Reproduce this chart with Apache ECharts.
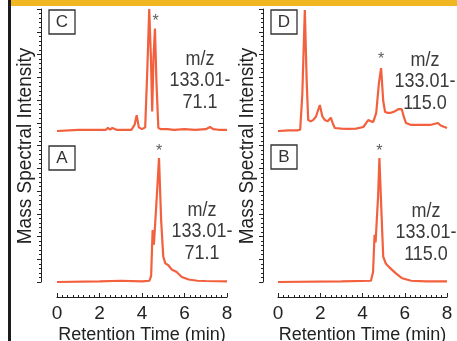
<!DOCTYPE html>
<html>
<head>
<meta charset="utf-8">
<script src="https://cdn.jsdelivr.net/npm/echarts@6/dist/echarts.min.js"></script>
<style>
  html, body { margin: 0; padding: 0; background: #fff; }
  #chart { width: 457px; height: 341px; }
</style>
</head>
<body>
<div id="chart"></div>
<script>
// retention time (min), relative intensity (%)
const traceC = [
  [0, 0], [1, 1], [2.3, 1], [2.4, 2.5], [2.5, 1], [2.6, 2.5], [2.8, 1], [3.5, 1],
  [3.65, 5], [3.75, 13], [3.85, 3], [4.0, 1.5], [4.15, 3], [4.25, 50], [4.34, 100],
  [4.42, 60], [4.48, 16], [4.54, 60], [4.61, 84], [4.68, 40], [4.77, 2.5], [4.9, 1.5],
  [5.2, 1.5], [5.5, 1], [6.0, 1.5], [6.5, 1], [7.0, 1.5], [7.2, 3.3], [7.35, 1.5],
  [7.6, 1], [8.0, 1]
];
const traceA = [
  [0, 0], [2, 0.5], [3, 1], [4, 0.5], [4.35, 1], [4.43, 5], [4.5, 42], [4.56, 30],
  [4.61, 30], [4.7, 70], [4.8, 100], [4.9, 50], [5.0, 20.5], [5.1, 15], [5.24, 13.5],
  [5.4, 10], [5.63, 8], [5.87, 4], [6.2, 2], [6.6, 1], [7.0, 0.8], [8.0, 0.5]
];
const traceD = [
  [0, 0], [0.5, 0.5], [0.9, 0.5], [1.05, 1], [1.15, 30], [1.27, 100], [1.36, 40],
  [1.43, 9], [1.55, 8], [1.66, 9], [1.8, 12], [1.98, 21.5], [2.1, 12], [2.22, 9],
  [2.35, 8], [2.5, 11], [2.6, 6], [2.69, 2.5], [3.0, 2], [3.33, 1.7], [3.7, 2],
  [4.04, 3.3], [4.15, 6], [4.27, 9], [4.4, 8], [4.51, 7.5], [4.65, 15], [4.78, 40],
  [4.88, 52], [4.98, 25], [5.07, 15.7], [5.2, 15], [5.31, 14.9], [5.5, 16], [5.7, 18],
  [5.86, 18], [5.95, 12], [6.06, 6.6], [6.3, 5], [6.8, 5], [7.2, 5], [7.57, 6.6],
  [7.7, 4.5], [8.0, 2.5]
];
const traceB = [
  [0, 0], [3, 0.5], [4.4, 1], [4.5, 8], [4.57, 38], [4.62, 32], [4.68, 31], [4.74, 70],
  [4.8, 100], [4.9, 55], [4.98, 20.5], [5.1, 15], [5.26, 12], [5.58, 7], [5.88, 3],
  [6.3, 1], [7.0, 0.5], [8.0, 0.5]
];

// asterisk markers over the analyte peak
const starC = [[4.64, 90]];
const starA = [[4.81, 105]];
const starD = [[4.88, 59]];
const starB = [[4.8, 105]];

const panelLetters = ["C", "A", "D", "B"];
const mzLabels = ["m/z\n133.01-\n71.1", "m/z\n133.01-\n71.1", "m/z\n133.01-\n115.0", "m/z\n133.01-\n115.0"];
const xTicks = [0, 2, 4, 6, 8];

const FONT = "Liberation Sans, Arial, sans-serif";
const LINE = "#f2603e";
const INK = "#222";

const chart = echarts.init(document.getElementById("chart"));

// lower panels reach down to the time axis, which sits a little below the baseline
const gridBoxes = [
  { left: 57, top: 9, width: 170, height: 122 },   // C
  { left: 57, top: 158, width: 170, height: 139 }, // A
  { left: 278, top: 10, width: 169, height: 121 }, // D
  { left: 278, top: 158, width: 169, height: 139 },// B
  { left: 41, top: 9, width: 10, height: 273 },    // left intensity axis
  { left: 263, top: 9, width: 10, height: 273 }    // right intensity axis
];
// keep the boxes where they are even though the axis title runs off the bottom
const grids = gridBoxes.map((g) => Object.assign({ outerBoundsMode: "none", containLabel: false }, g));

function timeAxis(gridIndex, visible) {
  return {
    type: "value",
    gridIndex,
    min: xTicks[0],
    max: xTicks[xTicks.length - 1],
    interval: 2,
    show: visible,
    axisLine: { onZero: false, lineStyle: { color: INK, width: 1.2 } },
    axisTick: { inside: true, length: 4, lineStyle: { color: INK } },
    minorTick: { show: true, splitNumber: 8, length: 2, lineStyle: { color: INK } },
    axisLabel: { color: INK, fontSize: 19, fontFamily: FONT, margin: 7 },
    splitLine: { show: false },
    name: "Retention Time (min)",
    nameLocation: "middle",
    nameGap: 29,
    nameTextStyle: { color: INK, fontSize: 18, fontFamily: FONT }
  };
}

function intensityAxis(gridIndex, lower) {
  return {
    type: "value",
    gridIndex,
    min: lower ? -12.1 : 0,
    max: 100,
    show: false
  };
}

function frameAxis(gridIndex) {
  return {
    type: "value",
    gridIndex,
    min: 0,
    max: 12,
    interval: 1,
    axisLine: { lineStyle: { color: INK, width: 1 } },
    axisTick: { length: 4, lineStyle: { color: INK } },
    minorTick: { show: true, splitNumber: 5, length: 2, lineStyle: { color: INK } },
    axisLabel: { show: false },
    splitLine: { show: false }
  };
}

const traces = [traceC, traceA, traceD, traceB];
const stars = [starC, starA, starD, starB];

const series = [];
traces.forEach((t, i) => {
  series.push({
    type: "line",
    xAxisIndex: i,
    yAxisIndex: i,
    data: t,
    showSymbol: false,
    silent: true,
    lineStyle: { color: LINE, width: 2.2 }
  });
  series.push({
    type: "scatter",
    xAxisIndex: i,
    yAxisIndex: i,
    data: stars[i],
    symbolSize: 0,
    clip: false,
    silent: true,
    label: {
      show: true,
      position: "inside",
      formatter: "*",
      color: "#333",
      fontSize: 16,
      fontFamily: FONT
    }
  });
});

// annotation boxes and m/z text
const boxPos = [[49, 10], [49, 146], [271, 10], [271, 145]];
const mzPos = [[200, 81], [202, 232], [425, 82], [426, 233]];
const graphic = [
  { type: "rect", shape: { x: 11, y: 0, width: 446, height: 6 }, style: { fill: "#f0b722" } },
  { type: "rect", shape: { x: 8, y: 0, width: 3, height: 341 }, style: { fill: "#1c1c1c" } },
  {
    type: "text", x: 25, y: 146, rotation: Math.PI / 2, scaleY: 1.08,
    style: { text: "Mass Spectral Intensity", font: "19px " + FONT, fill: INK, align: "center", verticalAlign: "middle" }
  },
  {
    type: "text", x: 247, y: 146, rotation: Math.PI / 2, scaleY: 1.08,
    style: { text: "Mass Spectral Intensity", font: "19px " + FONT, fill: INK, align: "center", verticalAlign: "middle" }
  }
];
panelLetters.forEach((letter, i) => {
  const [bx, by] = boxPos[i];
  graphic.push({
    type: "rect",
    shape: { x: bx, y: by, width: 26, height: 24 },
    style: { fill: "#fff", stroke: "#333", lineWidth: 1.3 }
  });
  graphic.push({
    type: "text", x: bx + 13, y: by + 12,
    style: { text: letter, font: "17px " + FONT, fill: "#333", align: "center", verticalAlign: "middle" }
  });
  graphic.push({
    type: "text", x: mzPos[i][0], y: mzPos[i][1], scaleY: 1.1,
    style: { text: mzLabels[i], font: "18px " + FONT, lineHeight: 19.5, fill: "#3a3a3a", align: "center", verticalAlign: "middle" }
  });
});

chart.setOption({
  animation: false,
  backgroundColor: "#fff",
  grid: grids,
  xAxis: [
    timeAxis(0, false), timeAxis(1, true), timeAxis(2, false), timeAxis(3, true),
    { type: "value", gridIndex: 4, show: false }, { type: "value", gridIndex: 5, show: false }
  ],
  yAxis: [
    intensityAxis(0, false), intensityAxis(1, true), intensityAxis(2, false), intensityAxis(3, true),
    frameAxis(4), frameAxis(5)
  ],
  series,
  graphic
});
</script>
</body>
</html>
